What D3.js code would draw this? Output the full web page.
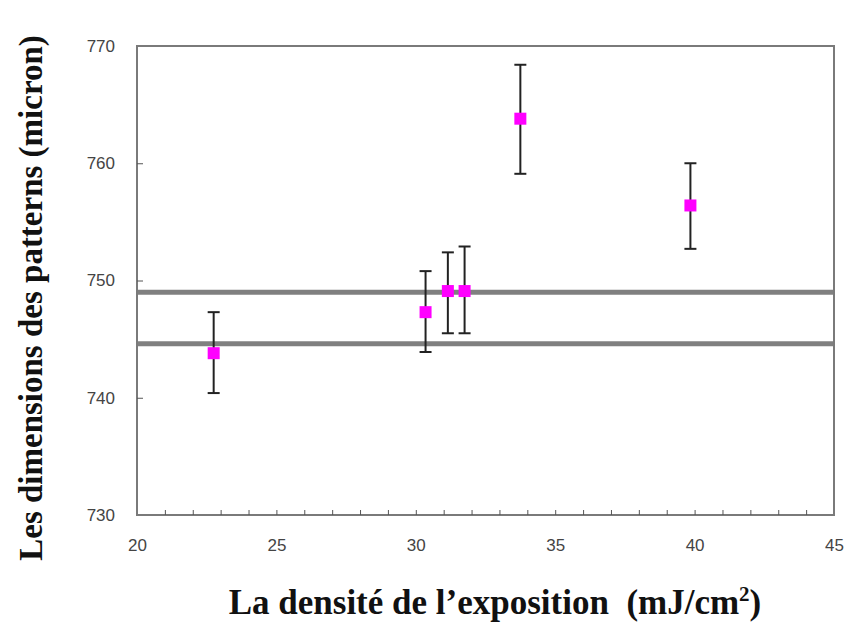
<!DOCTYPE html>
<html><head><meta charset="utf-8">
<script src="https://cdn.jsdelivr.net/npm/d3@7"></script>
<style>body{margin:0;background:#fff}</style>
</head><body>
<svg id="c" width="846" height="622"></svg>
<script>
const xVals = [22.75, 30.35, 31.15, 31.75, 33.75, 39.85];
const yVals = [743.8, 747.3, 749.1, 749.1, 763.8, 756.4];
const yLow  = [740.4, 743.9, 745.5, 745.5, 759.1, 752.7];
const yHigh = [747.3, 750.8, 752.4, 752.9, 768.4, 760.0];
const refLines = [749.0, 744.6];
const xTicks = [20, 25, 30, 35, 40, 45];
const yTicks = [730, 740, 750, 760, 770];
const xMinorTicks = d3.range(21, 45, 1);

const svg = d3.select("#c");
const L = 137, R = 834, T = 46, B = 515;
const x = d3.scaleLinear().domain([20, 45]).range([L, R]);
const y = d3.scaleLinear().domain([730, 770]).range([B, T]);

svg.selectAll(".ref").data(refLines).enter().append("line")
  .attr("x1", L).attr("x2", R).attr("y1", d => y(d)).attr("y2", d => y(d))
  .attr("stroke", "#808080").attr("stroke-width", 5);

svg.append("rect").attr("x", L).attr("y", T).attr("width", R - L).attr("height", B - T)
  .attr("fill", "none").attr("stroke", "#7a7a7a").attr("stroke-width", 2);

const gx = svg.append("g").attr("transform", `translate(0,${B})`)
  .call(d3.axisBottom(x).tickValues(xMinorTicks).tickSize(-5).tickFormat(""));
gx.select(".domain").remove();
gx.selectAll("line").attr("stroke", "#555").attr("stroke-width", 1);

const gxl = svg.append("g").attr("transform", `translate(0,${B})`)
  .call(d3.axisBottom(x).tickValues(xTicks).tickSize(0).tickPadding(24));
gxl.select(".domain").remove();
gxl.selectAll("text").attr("font-family", "Arial, 'Liberation Sans', sans-serif")
  .attr("font-size", 17).attr("fill", "#444");

const gy = svg.append("g").attr("transform", `translate(${L},0)`)
  .call(d3.axisRight(y).tickValues(yTicks.slice(1, 4)).tickSize(6).tickFormat(""));
gy.select(".domain").remove();
gy.selectAll("line").attr("stroke", "#555").attr("stroke-width", 1);

const gyl = svg.append("g").attr("transform", `translate(${L},0)`)
  .call(d3.axisLeft(y).tickValues(yTicks).tickSize(0).tickPadding(22));
gyl.select(".domain").remove();
gyl.selectAll("text").attr("font-family", "Arial, 'Liberation Sans', sans-serif")
  .attr("font-size", 17).attr("fill", "#444");

const data = xVals.map((v, i) => ({x: v, y: yVals[i], lo: yLow[i], hi: yHigh[i]}));
const eb = svg.append("g");
eb.selectAll(".v").data(data).enter().append("line")
  .attr("x1", d => x(d.x)).attr("x2", d => x(d.x))
  .attr("y1", d => y(d.lo)).attr("y2", d => y(d.hi))
  .attr("stroke", "#222").attr("stroke-width", 2);
eb.selectAll(".ct").data(data).enter().append("line")
  .attr("x1", d => x(d.x) - 6).attr("x2", d => x(d.x) + 6)
  .attr("y1", d => y(d.hi)).attr("y2", d => y(d.hi))
  .attr("stroke", "#222").attr("stroke-width", 2);
eb.selectAll(".cb").data(data).enter().append("line")
  .attr("x1", d => x(d.x) - 6).attr("x2", d => x(d.x) + 6)
  .attr("y1", d => y(d.lo)).attr("y2", d => y(d.lo))
  .attr("stroke", "#222").attr("stroke-width", 2);

svg.selectAll(".m").data(data).enter().append("rect")
  .attr("x", d => x(d.x) - 6).attr("y", d => y(d.y) - 6)
  .attr("width", 12).attr("height", 12).attr("fill", "#ff00ff");

svg.append("text").attr("x", 495).attr("y", 614).attr("text-anchor", "middle")
  .attr("font-family", "'Liberation Serif', 'Times New Roman', serif")
  .attr("font-weight", "bold").attr("font-size", 35).attr("fill", "#111")
  .html("La densité de l’exposition&#160;&#160;(mJ/cm<tspan dy='-13' font-size='21'>2</tspan><tspan dy='13'>)</tspan>");

svg.append("text").attr("transform", "translate(42,298) rotate(-90)").attr("text-anchor", "middle")
  .attr("font-family", "'Liberation Serif', 'Times New Roman', serif")
  .attr("font-weight", "bold").attr("font-size", 33).attr("fill", "#111")
  .text("Les dimensions des patterns (micron)");
</script>
</body></html>
